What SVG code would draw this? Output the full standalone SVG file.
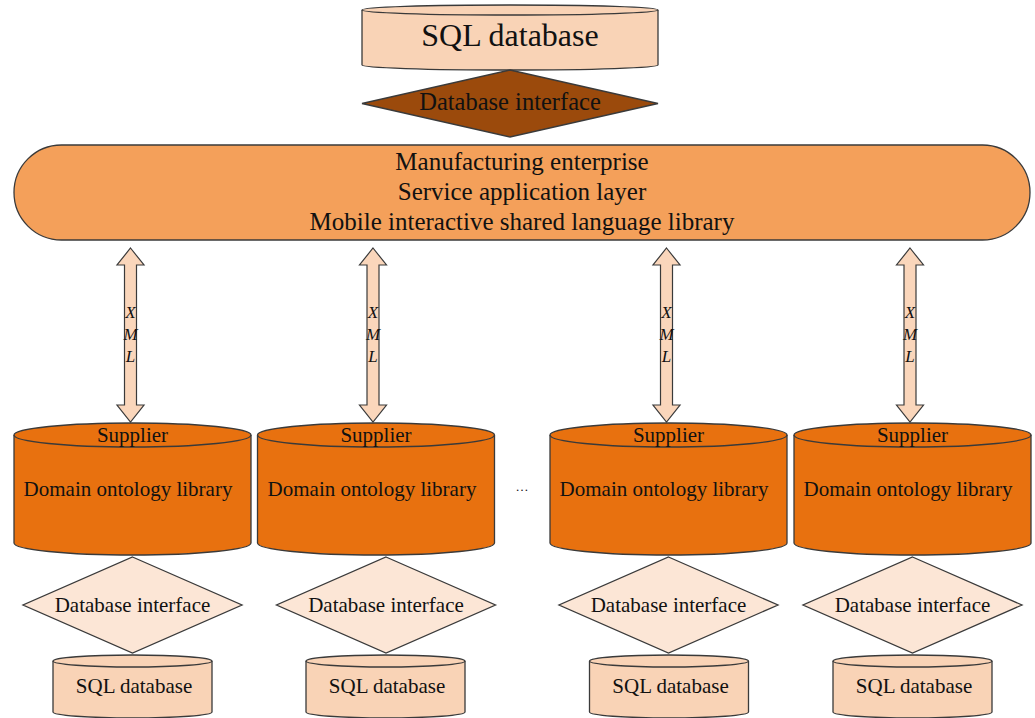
<svg xmlns="http://www.w3.org/2000/svg" width="1035" height="718" viewBox="0 0 1035 718">
<defs>
<style>
text{font-family:"Liberation Serif","Times New Roman",serif;fill:#111;text-anchor:middle}
.ln{stroke:#3a3a3a;stroke-width:1.3}
.peach{fill:#F9D3B6}
.pale{fill:#FCE6D6}
.org{fill:#E8710F}
.brown{fill:#9B4A0C}
.box{fill:#F4A05A}
.arrow{fill:#FAD6BB;stroke:#3a3a3a;stroke-width:1.2}
.s21{font-size:21px}
.xml{font-size:17px;font-style:italic}
</style>
</defs>
<rect width="1035" height="718" fill="#fff"/>

<g id="top-sql">
<path class="peach ln" d="M362,10 A148,5 0 0 1 658,10 L658,65 A148,5 0 0 1 362,65 Z"/>
<path class="ln" fill="none" d="M362,10 A148,5 0 0 0 658,10"/>
<text x="510" y="46" style="font-size:32px">SQL database</text>
</g>

<g id="top-interface">
<polygon class="brown ln" points="510,70 658,103.5 510,137 362,103.5"/>
<text x="510" y="110" style="font-size:24.5px">Database interface</text>
</g>

<g id="service-layer">
<rect class="box ln" x="14" y="145" width="1016" height="95" rx="47.5" ry="47.5"/>
<text x="522" y="170" style="font-size:25px">Manufacturing enterprise</text>
<text x="522" y="200" style="font-size:25px">Service application layer</text>
<text x="522" y="230" style="font-size:25px">Mobile interactive shared language library</text>
</g>

<g id="connectors">
<path class="arrow" d="M130.5,248 L144,265 L136.5,265 L136.5,405 L144,405 L130.5,422 L117,405 L124.5,405 L124.5,265 L117,265 Z"/>
<path class="arrow" d="M373,248 L386.5,265 L379,265 L379,405 L386.5,405 L373,422 L359.5,405 L367,405 L367,265 L359.5,265 Z"/>
<path class="arrow" d="M666.5,248 L680,265 L672.5,265 L672.5,405 L680,405 L666.5,422 L653,405 L660.5,405 L660.5,265 L653,265 Z"/>
<path class="arrow" d="M910,248 L923.5,265 L916,265 L916,405 L923.5,405 L910,422 L896.5,405 L904,405 L904,265 L896.5,265 Z"/>
<g class="xml">
<text x="130.5" y="318" class="xml">X</text><text x="130.5" y="340" class="xml">M</text><text x="130.5" y="362" class="xml">L</text>
<text x="373" y="318" class="xml">X</text><text x="373" y="340" class="xml">M</text><text x="373" y="362" class="xml">L</text>
<text x="666.5" y="318" class="xml">X</text><text x="666.5" y="340" class="xml">M</text><text x="666.5" y="362" class="xml">L</text>
<text x="910" y="318" class="xml">X</text><text x="910" y="340" class="xml">M</text><text x="910" y="362" class="xml">L</text>
</g>
</g>

<g id="supplier-1">
<path class="org ln" d="M14,435 A118.5,12 0 0 1 251,435 L251,543 A118.5,12 0 0 1 14,543 Z"/>
<path class="ln" fill="none" d="M14,435 A118.5,12 0 0 0 251,435"/>
<text x="132.5" y="442" class="s21">Supplier</text>
<text x="128" y="496" class="s21">Domain ontology library</text>
</g>
<g id="supplier-2">
<path class="org ln" d="M257.5,435 A118.5,12 0 0 1 494.5,435 L494.5,543 A118.5,12 0 0 1 257.5,543 Z"/>
<path class="ln" fill="none" d="M257.5,435 A118.5,12 0 0 0 494.5,435"/>
<text x="376" y="442" class="s21">Supplier</text>
<text x="372" y="496" class="s21">Domain ontology library</text>
</g>
<g id="supplier-3">
<path class="org ln" d="M550,435 A118.5,12 0 0 1 787,435 L787,543 A118.5,12 0 0 1 550,543 Z"/>
<path class="ln" fill="none" d="M550,435 A118.5,12 0 0 0 787,435"/>
<text x="668.5" y="442" class="s21">Supplier</text>
<text x="664" y="496" class="s21">Domain ontology library</text>
</g>
<g id="supplier-4">
<path class="org ln" d="M794,435 A118.5,12 0 0 1 1031,435 L1031,543 A118.5,12 0 0 1 794,543 Z"/>
<path class="ln" fill="none" d="M794,435 A118.5,12 0 0 0 1031,435"/>
<text x="912.5" y="442" class="s21">Supplier</text>
<text x="908" y="496" class="s21">Domain ontology library</text>
</g>

<g id="ellipsis">
<text x="522" y="491" style="font-size:13px">…</text>
</g>

<g id="interface-1">
<polygon class="pale ln" points="132.5,557 242,605 132.5,653 23,605"/>
<text x="132.5" y="612" class="s21">Database interface</text>
</g>
<g id="interface-2">
<polygon class="pale ln" points="386,557 495.5,605 386,653 276.5,605"/>
<text x="386" y="612" class="s21">Database interface</text>
</g>
<g id="interface-3">
<polygon class="pale ln" points="668.5,557 778,605 668.5,653 559,605"/>
<text x="668.5" y="612" class="s21">Database interface</text>
</g>
<g id="interface-4">
<polygon class="pale ln" points="912.5,557 1022,605 912.5,653 803,605"/>
<text x="912.5" y="612" class="s21">Database interface</text>
</g>

<g id="sql-1">
<path class="peach ln" d="M53,661 A79.5,6 0 0 1 212,661 L212,712 A79.5,6 0 0 1 53,712 Z"/>
<path class="ln" fill="none" d="M53,661 A79.5,6 0 0 0 212,661"/>
<text x="134" y="693" class="s21">SQL database</text>
</g>
<g id="sql-2">
<path class="peach ln" d="M306,661 A79.5,6 0 0 1 465,661 L465,712 A79.5,6 0 0 1 306,712 Z"/>
<path class="ln" fill="none" d="M306,661 A79.5,6 0 0 0 465,661"/>
<text x="387" y="693" class="s21">SQL database</text>
</g>
<g id="sql-3">
<path class="peach ln" d="M589.5,661 A79.5,6 0 0 1 748.5,661 L748.5,712 A79.5,6 0 0 1 589.5,712 Z"/>
<path class="ln" fill="none" d="M589.5,661 A79.5,6 0 0 0 748.5,661"/>
<text x="670.5" y="693" class="s21">SQL database</text>
</g>
<g id="sql-4">
<path class="peach ln" d="M833,661 A79.5,6 0 0 1 992,661 L992,712 A79.5,6 0 0 1 833,712 Z"/>
<path class="ln" fill="none" d="M833,661 A79.5,6 0 0 0 992,661"/>
<text x="914" y="693" class="s21">SQL database</text>
</g>
</svg>
